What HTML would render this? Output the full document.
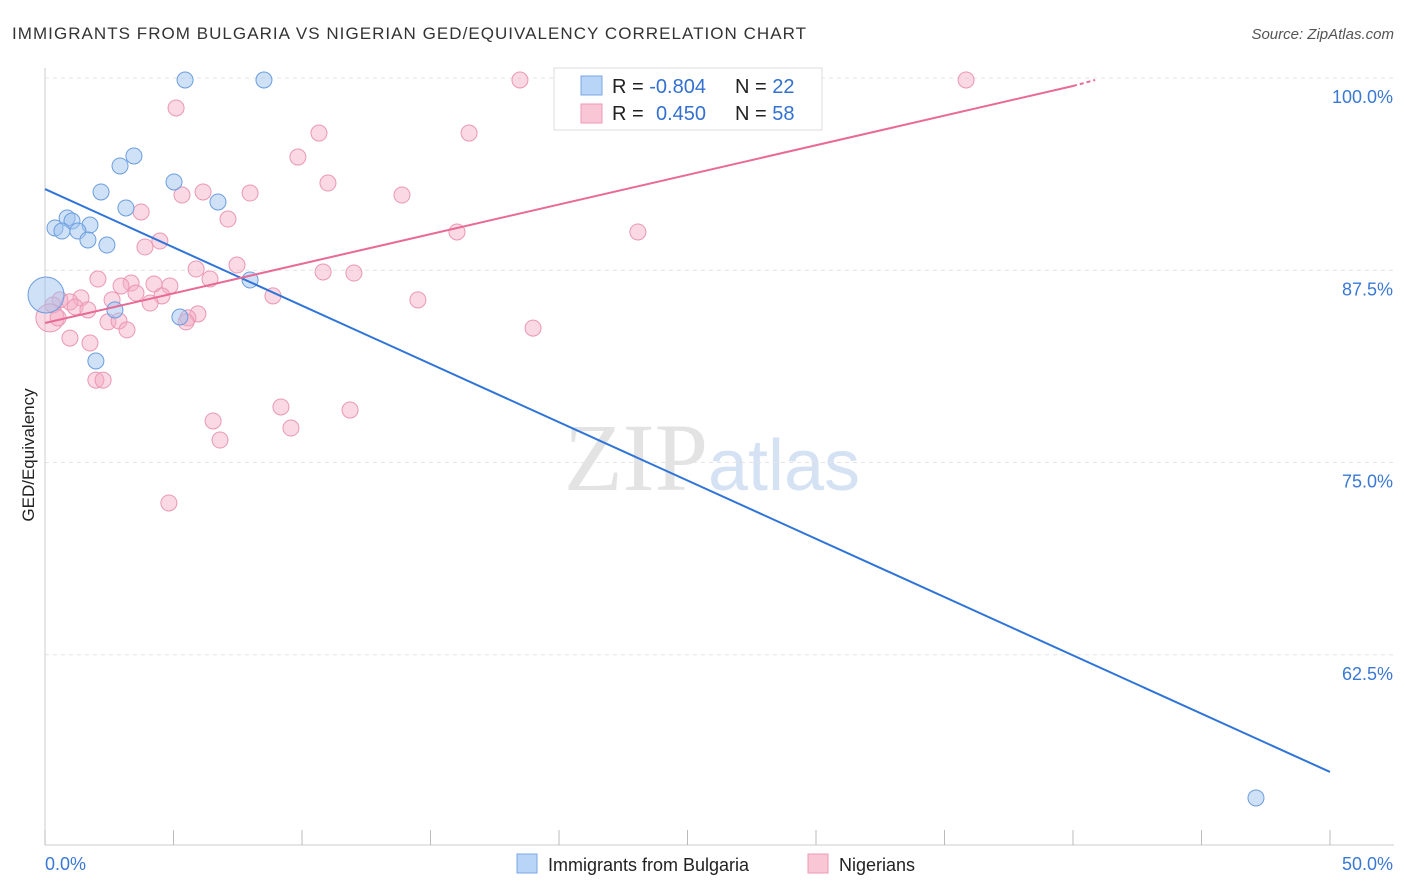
<!DOCTYPE html>
<html><head><meta charset="utf-8"><style>
body{margin:0;background:#fff;font-family:"Liberation Sans",sans-serif}
svg{display:block}
</style></head><body>
<svg id="c" width="1406" height="892">
<text x="12" y="39" font-size="17" fill="#333" textLength="794" lengthAdjust="spacing">IMMIGRANTS FROM BULGARIA VS NIGERIAN GED/EQUIVALENCY CORRELATION CHART</text>
<text x="1394" y="39" font-size="15" fill="#555" font-style="italic" text-anchor="end">Source: ZipAtlas.com</text>
<text x="712" y="490" font-size="96" fill="#e3e3e3" text-anchor="middle" font-family="Liberation Serif">ZIP<tspan fill="#d4e2f4" font-family="Liberation Sans" font-size="72">atlas</tspan></text>
<text transform="translate(34,455) rotate(-90)" font-size="17" fill="#222" text-anchor="middle">GED/Equivalency</text>
<g id="grid"></g><g id="pts"></g><g id="lines"></g>
<g>
<rect x="554" y="68" width="268" height="62" fill="#fff" stroke="#ddd"/>
<rect x="581" y="76" width="21" height="19" fill="#b8d4f6" stroke="#7aa7e6"/>
<rect x="581" y="104" width="21" height="19" fill="#f9c6d6" stroke="#ec9ab6"/>
<text x="612" y="93" font-size="20" fill="#222">R = <tspan fill="#3370d0">-0.804</tspan><tspan x="735">N = </tspan><tspan fill="#3370d0">22</tspan></text>
<text x="612" y="120" font-size="20" fill="#222">R = <tspan x="656" fill="#3370d0">0.450</tspan><tspan x="735">N = </tspan><tspan fill="#3370d0">58</tspan></text>
</g>
<g>
<rect x="517" y="854" width="20" height="19" fill="#b8d4f6" stroke="#7aa7e6"/>
<text x="548" y="871" font-size="18" fill="#222">Immigrants from Bulgaria</text>
<rect x="808" y="854" width="20" height="19" fill="#f9c6d6" stroke="#ec9ab6"/>
<text x="839" y="871" font-size="18" fill="#222">Nigerians</text>
</g>
</svg>
<script>
const yTicks=[100,87.5,75,62.5];
const yTickLabels=["100.0%","87.5%","75.0%","62.5%"];
const xTicks=[0,5,10,15,20,25,30,35,40,45,50];
const blueX=[5.45,8.52,3.46,2.92,5.02,2.18,6.73,3.15,0.86,1.05,1.75,0.39,0.66,1.28,1.67,2.41,7.98,0.04,2.72,5.25,1.98,47.12];
const blueY=[99.87,99.87,94.93,94.28,93.24,92.59,91.94,91.55,90.9,90.7,90.44,90.25,90.05,90.05,89.47,89.14,86.87,85.89,84.92,84.46,81.6,53.19];
const pinkX=[18.48,35.84,5.1,10.66,16.5,9.84,11.01,6.15,5.33,7.98,13.89,3.74,7.12,16.03,23.07,4.47,3.89,7.47,5.88,10.82,12.02,2.06,3.35,4.24,2.96,4.86,6.42,1.4,2.61,8.87,3.54,4.55,14.51,0.58,0.97,4.09,1.17,0.31,0.19,1.67,5.95,5.56,2.45,2.88,5.49,3.19,18.99,0.97,1.75,1.98,2.26,9.18,11.87,6.54,9.57,6.81,4.82,0.51];
const pinkY=[99.87,99.87,98.05,96.42,96.42,94.86,93.17,92.59,92.39,92.52,92.39,91.29,90.83,89.99,89.99,89.4,89.01,87.84,87.58,87.39,87.32,86.93,86.67,86.61,86.48,86.48,86.93,85.7,85.57,85.83,86.02,85.83,85.57,85.57,85.44,85.37,85.11,85.24,84.4,84.92,84.66,84.4,84.14,84.2,84.14,83.62,83.74,83.09,82.77,80.36,80.36,78.61,78.41,77.7,77.24,76.46,72.37,84.4];
const blueLine=[[0,92.78],[50,54.88]];
const pinkLine=[[0,84.07],[40,99.48]];
const pinkDash=[[40,99.48],[40.86,99.87]];
const X=v=>45+v*25.7, Y=v=>78+(100-v)*15.38;
const NS="http://www.w3.org/2000/svg";
function mk(p,t,a){const e=document.createElementNS(NS,t);for(const k in a)e.setAttribute(k,a[k]);p.appendChild(e);return e;}
const g=document.getElementById('grid');
yTicks.forEach((v,i)=>{
 const l=mk(g,'line',{x1:45,x2:1394,y1:Y(v),y2:Y(v),stroke:'#e4e4e4','stroke-dasharray':'4,4'});
 
 
 const t=mk(g,'text',{x:1393,y:Y(v)+25,'font-size':18,fill:'#3a78d4','text-anchor':'end'});t.textContent=yTickLabels[i];
 
 
});
const ax=mk(g,'line',{x1:45,x2:1394,y1:845,y2:845,stroke:'#ccc'});


const ay=mk(g,'line',{x1:45,x2:45,y1:68,y2:845,stroke:'#ccc'});


xTicks.forEach(v=>{const t=mk(g,'line',{x1:X(v),x2:X(v),y1:830,y2:845,stroke:'#bbb'});
 
 });
const x0=mk(g,'text',{x:45,y:870,'font-size':18,fill:'#3a78d4'});x0.textContent='0.0%';


const x1=mk(g,'text',{x:1393,y:870,'font-size':18,fill:'#3a78d4','text-anchor':'end'});x1.textContent='50.0%';


const p=document.getElementById('pts');
pinkX.forEach((v,i)=>{const c=mk(p,'circle',{cx:X(v),cy:Y(pinkY[i]),r:(i===38?14:8),fill:'rgba(244,170,196,0.45)',stroke:'#eb97b4','stroke-width':1});
 
 });
blueX.forEach((v,i)=>{const c=mk(p,'circle',{cx:X(v),cy:Y(blueY[i]),r:(i===17?18:8),fill:'rgba(160,196,240,0.5)',stroke:'#6b9de0','stroke-width':1});
 
 });
const L=document.getElementById('lines');
const bl=mk(L,'line',{x1:X(blueLine[0][0]),y1:Y(blueLine[0][1]),x2:X(blueLine[1][0]),y2:Y(blueLine[1][1]),stroke:'#2f74d8','stroke-width':2});


const pl=mk(L,'line',{x1:X(pinkLine[0][0]),y1:Y(pinkLine[0][1]),x2:X(pinkLine[1][0]),y2:Y(pinkLine[1][1]),stroke:'#e86a95','stroke-width':2});


const pd=mk(L,'line',{x1:X(pinkDash[0][0]),y1:Y(pinkDash[0][1]),x2:X(pinkDash[1][0]),y2:Y(pinkDash[1][1]),stroke:'#e86a95','stroke-width':2,'stroke-dasharray':'4,3'});


</script>
</body></html>
